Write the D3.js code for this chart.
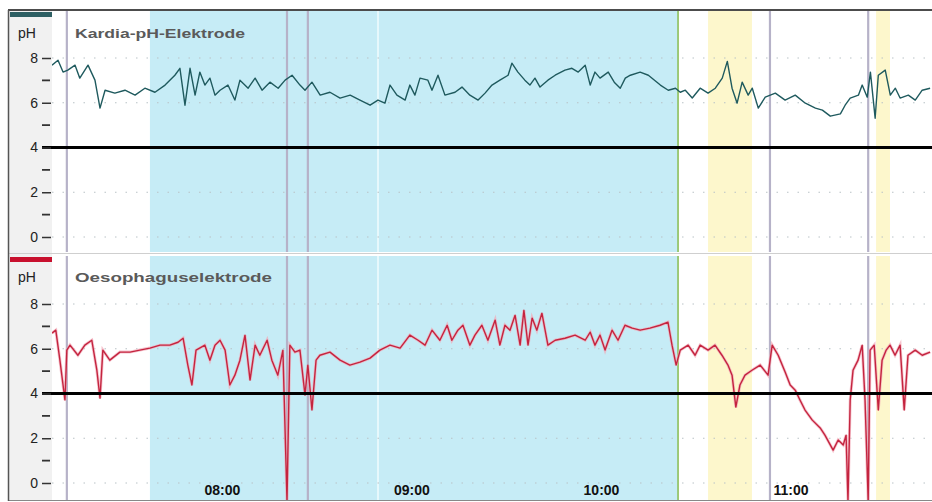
<!DOCTYPE html>
<html>
<head>
<meta charset="utf-8">
<script src="https://cdn.jsdelivr.net/npm/d3@7"></script>
<style>
  body { margin: 0; background: #fff; }
  svg { display: block; font-family: "Liberation Sans", Arial, sans-serif; }
</style>
</head>
<body>
<svg id="chart" width="932" height="502"></svg>
<script>
// time in minutes after 07:00, pH values
const kardiaMin = [6.2, 8.1, 9.7, 11.2, 13.5, 15.0, 17.6, 19.8, 21.4, 23.0, 26.1, 29.3, 32.5, 35.6, 38.8, 42.0, 45.1, 46.7, 48.3, 49.9,
  51.5, 53.0, 54.6, 56.2, 57.8, 59.4, 61.9, 64.1, 65.7, 68.3, 70.5, 72.7, 75.2, 77.8, 80.0, 82.2, 84.7, 86.3, 88.5, 91.1,
  94.2, 97.4, 100.6, 103.7, 106.9, 109.4, 111.6, 113.2, 115.4, 118.0, 119.5, 121.1, 122.7, 125.2, 126.5, 128.4, 130.6, 133.8, 136.0, 138.5,
  141.1, 143.3, 145.5, 148.0, 150.6, 151.8, 153.7, 155.9, 157.5, 159.1, 160.7, 163.2, 165.5, 168.6, 170.8, 172.8, 175.0, 176.6, 178.1, 179.7,
  182.3, 184.2, 186.1, 187.7, 189.3, 192.4, 195.0, 198.8, 201.3, 203.6, 205.1, 206.7, 208.9, 211.4, 213.9, 216.2, 218.4, 220.0, 221.5, 223.1,
  224.7, 226.6, 227.9, 229.8, 232.0, 235.2, 238.3, 241.5, 244.7, 247.9, 250.1, 252.6, 255.8, 257.3, 258.9, 261.5, 262.7, 264.3, 265.3, 266.8,
  267.8, 270.0, 271.6, 273.2, 274.7, 277.3, 279.5, 281.7, 284.2];
const kardiaPH = [7.68, 7.90, 7.37, 7.46, 7.68, 7.10, 7.68, 7.01, 5.76, 6.56, 6.43, 6.56, 6.34, 6.65, 6.47, 6.79, 7.23, 7.54, 5.89, 7.54,
  6.34, 7.37, 6.79, 7.10, 6.34, 6.56, 6.79, 6.12, 7.01, 6.65, 7.10, 6.56, 6.92, 6.65, 7.01, 7.23, 6.79, 6.56, 6.92, 6.34,
  6.47, 6.21, 6.34, 6.12, 5.89, 6.12, 5.98, 6.79, 6.34, 6.12, 6.79, 6.34, 7.10, 7.01, 6.56, 7.23, 6.34, 6.47, 6.70, 6.34,
  6.12, 6.43, 6.79, 7.01, 7.23, 7.77, 7.37, 7.01, 6.79, 7.10, 6.70, 7.01, 7.23, 7.46, 7.54, 7.37, 7.68, 6.79, 7.37, 7.10,
  7.37, 6.92, 6.65, 7.10, 7.23, 7.37, 7.23, 6.79, 6.56, 6.65, 6.47, 6.56, 6.21, 6.65, 6.43, 6.65, 7.10, 7.85, 6.65, 5.98,
  6.92, 6.34, 6.65, 5.76, 6.25, 6.43, 6.12, 6.34, 5.98, 5.76, 5.67, 5.40, 5.50, 5.89, 6.21, 6.34, 6.79, 6.25, 7.37, 5.31,
  7.23, 7.46, 6.34, 6.65, 6.21, 6.34, 6.12, 6.56, 6.65];

const oesoMin = [6.2, 7.4, 8.7, 10.3, 10.9, 11.9, 14.4, 16.6, 18.8, 20.4, 21.4, 22.3, 24.5, 27.7, 30.9, 34.0, 37.2, 40.4, 43.5, 46.1,
  47.7, 49.2, 50.5, 51.8, 54.6, 56.2, 57.8, 59.4, 61.0, 62.5, 64.1, 65.7, 67.3, 68.9, 70.5, 72.0, 74.3, 75.8, 77.7, 79.3,
  80.6, 81.5, 83.1, 84.7, 86.3, 87.2, 88.5, 89.8, 91.0, 94.2, 97.4, 100.5, 103.7, 106.9, 110.0, 113.2, 116.4, 119.5, 122.1, 124.3,
  126.5, 129.0, 131.3, 132.8, 134.7, 136.3, 138.5, 140.1, 142.3, 144.2, 146.5, 148.0, 149.6, 151.2, 152.8, 154.4, 155.6, 156.9, 158.2, 159.7,
  161.3, 163.2, 165.5, 168.6, 171.8, 175.0, 176.6, 178.1, 179.7, 181.3, 183.5, 185.4, 187.6, 189.9, 192.4, 195.5, 198.7, 201.2, 202.5, 203.8,
  205.1, 207.6, 209.8, 211.4, 213.9, 216.1, 218.3, 220.2, 221.5, 222.7, 224.0, 225.6, 227.8, 230.4, 232.9, 234.2, 236.1, 238.3, 239.9, 241.5,
  243.0, 244.6, 246.9, 249.4, 250.9, 253.5, 255.1, 256.7, 257.6, 258.2, 258.9, 259.8, 261.4, 262.7, 263.6, 264.6, 265.2, 266.5, 267.8, 269.0,
  270.3, 271.5, 273.1, 274.7, 276.0, 277.2, 279.5, 281.7, 284.2];
const oesoPH = [6.70, 6.83, 5.49, 3.71, 5.94, 6.16, 5.71, 6.16, 6.38, 5.04, 3.79, 5.94, 5.49, 5.85, 5.85, 5.94, 6.03, 6.16, 6.16, 6.29,
  6.47, 5.27, 4.38, 5.94, 6.16, 5.49, 6.16, 6.38, 5.94, 4.38, 4.82, 5.49, 6.61, 4.60, 6.16, 5.71, 6.38, 5.49, 4.82, 5.94,
  -0.8, 6.16, 5.85, 5.94, 3.93, 5.27, 3.26, 5.49, 5.71, 5.85, 5.49, 5.27, 5.40, 5.58, 5.94, 6.16, 6.03, 6.61, 6.38, 6.16,
  6.83, 6.38, 7.05, 6.38, 6.83, 7.05, 6.16, 6.61, 7.05, 6.38, 7.28, 6.16, 7.05, 6.83, 7.50, 6.16, 7.72, 6.16, 7.37, 6.83,
  7.59, 6.16, 6.38, 6.47, 6.61, 6.38, 6.74, 6.16, 6.61, 5.94, 6.83, 6.38, 7.05, 6.92, 6.83, 6.92, 7.05, 7.19, 6.16, 5.27,
  5.94, 6.16, 5.71, 6.16, 5.94, 6.16, 5.71, 5.27, 4.82, 3.39, 4.38, 4.82, 5.04, 5.27, 4.82, 6.16, 5.71, 4.96, 4.38, 4.15,
  3.71, 3.26, 2.81, 2.46, 2.14, 1.47, 1.92, 1.70, 2.14, -0.8, 3.71, 5.04, 5.49, 6.16, 3.71, -0.8, 5.94, 6.16, 3.26, 5.49,
  5.94, 6.16, 5.71, 6.16, 3.26, 5.71, 5.94, 5.71, 5.85];

const hourTicks = [60, 120, 180, 240];
const hourLabels = ["08:00", "09:00", "10:00", "11:00"];
const phMajor = [0, 2, 4, 6, 8];
const phMinor = [1, 3, 5, 7];
const phGrid = [0, 2, 6, 8];
const acidLimit = 4;

// event periods / markers (minutes after 07:00)
const supinePeriod = [37.2, 204.4];
const mealPeriods = [[213.9, 227.8], [267.1, 271.5]];
const eventMarkers = [10.9, 80.6, 87.2, 233.5, 264.6];
const uprightMarker = 204.4;
const lightMarker = 109.4;

const svg = d3.select("#chart");
const W = 932;
const left = 52, right = 932;

const x = d3.scaleLinear().domain([6.2, 284.8]).range([left, right]);

const panels = [
  { title: "Kardia-pH-Elektrode", top: 11, bottom: 252, y0: 237, y8: 58, color: "#1f5a5e", bar: "#2d5f63",
    min: kardiaMin, ph: kardiaPH, tw: 170, ty: 38 },
  { title: "Oesophaguselektrode", top: 256, bottom: 500, y0: 483, y8: 304, color: "#c4243f", bar: "#c8102e",
    min: oesoMin, ph: oesoPH, tw: 197, ty: 282 }
];

// left strip
svg.append("rect").attr("x", 8).attr("y", 10).attr("width", left - 8).attr("height", 490).attr("fill", "#f1f1f1");

panels.forEach((p, i) => {
  const y = d3.scaleLinear().domain([0, 8]).range([p.y0, p.y8]);
  const g = svg.append("g");
  const clipId = "clip" + i;
  svg.append("clipPath").attr("id", clipId).append("rect")
    .attr("x", left).attr("y", p.top).attr("width", right - left).attr("height", p.bottom - p.top);

  const plot = g.append("g").attr("clip-path", `url(#${clipId})`);
  plot.append("rect").attr("x", left).attr("y", p.top).attr("width", right - left).attr("height", p.bottom - p.top).attr("fill", "#fff");

  plot.append("rect")
    .attr("x", x(supinePeriod[0])).attr("y", p.top)
    .attr("width", x(supinePeriod[1]) - x(supinePeriod[0])).attr("height", p.bottom - p.top)
    .attr("fill", "#c6ecf6");

  plot.selectAll(".meal").data(mealPeriods).join("rect")
    .attr("x", d => x(d[0])).attr("y", p.top)
    .attr("width", d => x(d[1]) - x(d[0])).attr("height", p.bottom - p.top)
    .attr("fill", "#fdf7cc");

  plot.append("line")
    .attr("x1", x(lightMarker)).attr("x2", x(lightMarker)).attr("y1", p.top).attr("y2", p.bottom)
    .attr("stroke", "#e6f8fc").attr("stroke-width", 2);

  plot.selectAll(".ev").data(eventMarkers).join("line")
    .attr("x1", d => x(d)).attr("x2", d => x(d)).attr("y1", p.top).attr("y2", p.bottom)
    .attr("stroke", "#b6b2c8").attr("stroke-width", 2.2);

  plot.append("line")
    .attr("x1", x(uprightMarker)).attr("x2", x(uprightMarker)).attr("y1", p.top).attr("y2", p.bottom)
    .attr("stroke", "#8cbf5a").attr("stroke-width", 1.6);

  // dotted grid
  plot.selectAll(".grid").data(phGrid).join("line")
    .attr("x1", left).attr("x2", right).attr("y1", d => y(d)).attr("y2", d => y(d))
    .attr("stroke", "#b9c2c6").attr("stroke-width", 1).attr("stroke-dasharray", "1.5,9");

  // pH 4 reference
  g.append("line")
    .attr("x1", 42).attr("x2", right).attr("y1", y(acidLimit)).attr("y2", y(acidLimit))
    .attr("stroke", "#000").attr("stroke-width", 3);

  // tracing
  const pts = p.min.map((m, k) => [m, p.ph[k]]);
  const line = d3.line().x(d => x(d[0])).y(d => y(d[1]));
  if (i === 1) {
    plot.append("path").datum(pts).attr("d", line).attr("fill", "none")
      .attr("stroke", "#f2a9b8").attr("stroke-width", 3).attr("stroke-opacity", 0.7);
  }
  plot.append("path").datum(pts).attr("d", line).attr("fill", "none")
    .attr("stroke", p.color).attr("stroke-width", 1.4).attr("stroke-linejoin", "round");

  // y axis
  const axis = d3.axisLeft(y).tickValues(phMajor).tickSize(9).tickPadding(4);
  const ag = g.append("g").attr("transform", `translate(${left - 1},0)`).call(axis);
  ag.select(".domain").remove();
  ag.selectAll(".tick line").attr("stroke", "#333").attr("stroke-width", 1.5);
  ag.selectAll(".tick text").attr("font-size", 14).attr("fill", "#222");
  g.selectAll(".minor").data(phMinor).join("line")
    .attr("x1", 42).attr("x2", 50).attr("y1", d => y(d)).attr("y2", d => y(d))
    .attr("stroke", "#333").attr("stroke-width", 1.8);

  g.append("text").attr("x", 18).attr("y", p.ty).attr("font-size", 14).attr("fill", "#222").text("pH");

  // header bar
  g.append("rect").attr("x", 10).attr("y", p.top + 1).attr("width", left - 10).attr("height", 5).attr("fill", p.bar);

  g.append("text").attr("x", 75).attr("y", p.ty).attr("font-size", 13).attr("font-weight", "bold")
    .attr("fill", "#5a5a5a").attr("textLength", p.tw).attr("lengthAdjust", "spacingAndGlyphs").text(p.title);
});

// separator and borders
svg.append("line").attr("x1", 8).attr("x2", W).attr("y1", 253.5).attr("y2", 253.5).attr("stroke", "#cfcfcf").attr("stroke-width", 1);
svg.append("line").attr("x1", 8).attr("x2", W).attr("y1", 10).attr("y2", 10).attr("stroke", "#111").attr("stroke-width", 1.5);
svg.append("line").attr("x1", 8).attr("x2", W).attr("y1", 500.5).attr("y2", 500.5).attr("stroke", "#888").attr("stroke-width", 1);
svg.append("line").attr("x1", 8.5).attr("x2", 8.5).attr("y1", 10).attr("y2", 501).attr("stroke", "#555").attr("stroke-width", 1.5);

// time axis labels
const xAxis = d3.axisBottom(x).tickValues(hourTicks).tickSize(0).tickFormat((d, k) => hourLabels[k]);
const xg = svg.append("g").attr("transform", "translate(0,484)").call(xAxis);
xg.select(".domain").remove();
xg.selectAll(".tick text").attr("font-size", 14).attr("font-weight", "bold").attr("fill", "#111").attr("dy", "0.55em");
</script>
</body>
</html>
